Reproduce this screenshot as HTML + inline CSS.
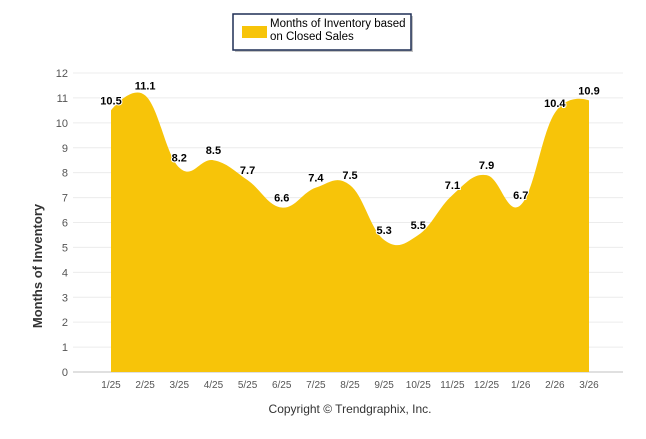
<!DOCTYPE html>
<html><head><meta charset="utf-8"><style>
body{margin:0;background:#fff;font-family:"Liberation Sans",Arial,sans-serif}
svg text{font-family:"Liberation Sans",Arial,sans-serif}
</style></head><body>
<svg id="c" width="646" height="434" xmlns="http://www.w3.org/2000/svg">
<g>
<rect x="235" y="16" width="178" height="36" fill="#888" opacity="0.5"/>
<rect x="233" y="14" width="178" height="36" fill="#fff" stroke="#1f2f55" stroke-width="1.5"/>
<rect x="242" y="26" width="25" height="12" fill="#f7c409"/>
<text x="270" y="27" font-size="11.5" fill="#000">Months of Inventory based</text>
<text x="270" y="40" font-size="11.5" fill="#000">on Closed Sales</text>
</g>
<g id="grid"></g>
<path id="area" fill="#f7c409"/>
<g id="labels"></g>
<text transform="translate(42,266) rotate(-90)" text-anchor="middle" font-size="13" font-weight="bold" fill="#333">Months of Inventory</text>
<text x="350" y="413" text-anchor="middle" font-size="12" fill="#333">Copyright © Trendgraphix, Inc.</text>
</svg>
<script>
const categories=["1/25","2/25","3/25","4/25","5/25","6/25","7/25","8/25","9/25","10/25","11/25","12/25","1/26","2/26","3/26"];
const values=[10.5,11.1,8.2,8.5,7.7,6.6,7.4,7.5,5.3,5.5,7.1,7.9,6.7,10.4,10.9];
const yTicks=[0,1,2,3,4,5,6,7,8,9,10,11,12];
const NS="http://www.w3.org/2000/svg";
const x0=111,x1=589,y0=372,yTop=73,yMax=12;
const xs=i=>x0+(x1-x0)*i/(categories.length-1);
const ys=v=>y0-(y0-yTop)*v/yMax;
const grid=document.getElementById('grid');
yTicks.forEach(t=>{
 const l=document.createElementNS(NS,'line');
 l.setAttribute('x1',73);l.setAttribute('x2',623);l.setAttribute('y1',ys(t));l.setAttribute('y2',ys(t));
 l.setAttribute('stroke',t===0?'#c0c0c0':'#ececec');
 
 
 grid.appendChild(l);
 const tx=document.createElementNS(NS,'text');
 tx.setAttribute('x',68);tx.setAttribute('y',ys(t)+4);tx.setAttribute('text-anchor','end');tx.setAttribute('font-size','11');tx.setAttribute('fill','#555');
 tx.textContent=t;
 
 
 grid.appendChild(tx);
});
categories.forEach((c,i)=>{
 const tx=document.createElementNS(NS,'text');
 tx.setAttribute('x',xs(i));tx.setAttribute('y',388);tx.setAttribute('text-anchor','middle');tx.setAttribute('font-size','10');tx.setAttribute('fill','#555');
 tx.textContent=c;
 
 
 grid.appendChild(tx);
});
const P=values.map((v,i)=>({x:xs(i),y:ys(v)}));
const cont=P.map((p,i)=>{
 if(i===0||i===P.length-1)return{lx:p.x,ly:p.y,rx:p.x,ry:p.y};
 const a=P[i-1],b=P[i+1],s=1.5,d=s+1;
 let lx=(s*p.x+a.x)/d,ly=(s*p.y+a.y)/d,rx=(s*p.x+b.x)/d,ry=(s*p.y+b.y)/d;
 const corr=((ry-ly)*(rx-p.x))/(rx-lx)+p.y-ry;ly+=corr;ry+=corr;
 return{lx,ly,rx,ry};
});
let d=`M${P[0].x},${y0} L${P[0].x},${P[0].y}`;
for(let i=1;i<P.length;i++){d+=` C${cont[i-1].rx},${cont[i-1].ry} ${cont[i].lx},${cont[i].ly} ${P[i].x},${P[i].y}`;}
d+=` L${P[P.length-1].x},${y0} Z`;
document.getElementById('area').setAttribute('d',d);
const lg=document.getElementById('labels');
values.forEach((v,i)=>{
 const tx=document.createElementNS(NS,'text');
 tx.setAttribute('x',xs(i));tx.setAttribute('y',ys(v)-6);tx.setAttribute('text-anchor','middle');tx.setAttribute('font-size','11');tx.setAttribute('font-weight','bold');tx.setAttribute('fill','#000');
 tx.setAttribute('stroke','#fff');tx.setAttribute('stroke-width','2');tx.setAttribute('paint-order','stroke');
 tx.textContent=v.toFixed(1);
 
 
 lg.appendChild(tx);
});
</script>
</body></html>
